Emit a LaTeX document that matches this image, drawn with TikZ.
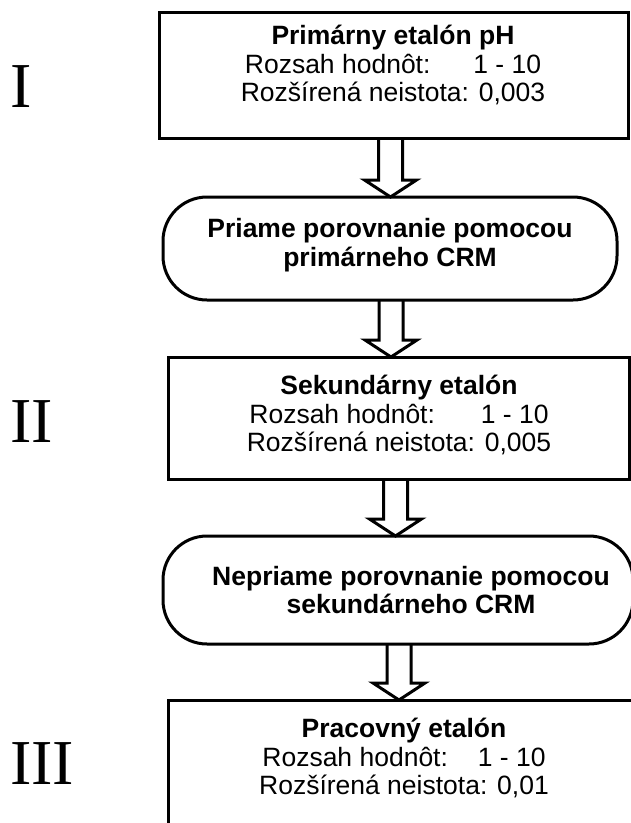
\documentclass[tikz,border=0pt]{standalone}
\usepackage{fontspec}
\setmainfont{Liberation Sans}
\newfontfamily\romanfont{Liberation Serif}
\usepackage{tikz}
\usetikzlibrary{calc}

\begin{document}
\begin{tikzpicture}[x=1pt,y=1pt,
  stdbox/.style={draw, line width=3pt, outer sep=0pt, inner sep=0pt},
  ovalbox/.style={stdbox, rounded corners=44pt},
  boxtext/.style={align=center, inner sep=0pt, font=\fontsize{26.5}{28.5}\selectfont},
  levelnum/.style={anchor=base west, inner sep=0pt, font=\romanfont\fontsize{64}{64}\selectfont},
  pipe/.style={line width=3pt, line join=miter}]
\useasboundingbox (0,0) rectangle (630,-823);

% levels
\node[levelnum] (levelI) at (10,-107) {I};
\node[levelnum] (levelII) at (10,-442) {II};
\node[levelnum] (levelIII) at (10,-784) {III};

% boxes
\node[stdbox, minimum width=469, minimum height=126] (primarny) at (393.5,-75) {};
\node[ovalbox, minimum width=454, minimum height=103] (priame) at (390,-248.5) {};
\node[stdbox, minimum width=461, minimum height=122] (sekundarny) at (398.5,-418) {};
\node[ovalbox, minimum width=470, minimum height=108] (nepriame) at (398,-590) {};
\node[stdbox, minimum width=472, minimum height=130] (pracovny) at (404,-765) {};

% texts
\node[boxtext] (primarnytxt) at (393,-65)
  {\textbf{Primárny etalón pH}\\Rozsah hodnôt:\hspace{33pt} 1 - 10\\Rozšírená neistota: 0,003};
\node[boxtext] (priametxt) at (390,-245)
  {\textbf{Priame porovnanie pomocou}\\\textbf{primárneho CRM}};
\node[boxtext] (sekundarnytxt) at (399,-415)
  {\textbf{Sekundárny etalón}\\Rozsah hodnôt:\hspace{36pt} 1 - 10\\Rozšírená neistota: 0,005};
\node[boxtext] (nepriametxt) at (411,-590)
  {\textbf{Nepriame porovnanie pomocou}\\\textbf{sekundárneho CRM}};
\node[boxtext] (pracovnytxt) at (404,-758)
  {\textbf{Pracovný etalón}\\Rozsah hodnôt:\hspace{20pt} 1 - 10\\Rozšírená neistota: 0,01};

% hollow arrows
\coordinate (ax1) at (390.5,0);
\coordinate (ax2) at (391,0);
\coordinate (ax3) at (395.5,0);
\coordinate (ax4) at (399,0);
\foreach \src/\dst/\ax in {primarny/priame/ax1,priame/sekundarny/ax2,sekundarny/nepriame/ax3,nepriame/pracovny/ax4}
{
    \draw[pipe] let \p1=(\src.south -| \ax), \p2=(\dst.north -| \ax) in
    (\x1-12pt,\y1) -- (\x1-12pt,\y2+17pt) -- (\x1-26pt,\y2+17pt) -- (\x2,\y2)
    -- (\x1+26pt,\y2+17pt) -- (\x1+12pt,\y2+17pt) -- (\x1+12pt,\y1);
}
\end{tikzpicture}
\end{document}
